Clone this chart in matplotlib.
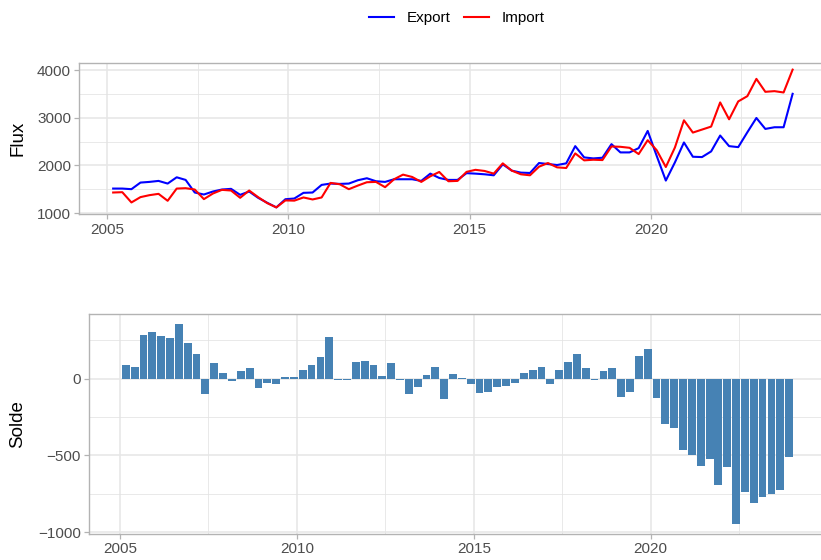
import numpy as np
import pandas as pd
import matplotlib
matplotlib.use("Agg")
import matplotlib.pyplot as plt
from matplotlib.lines import Line2D
from matplotlib.ticker import FixedLocator

plt.rcParams['font.family'] = ['Liberation Sans', 'DejaVu Sans']

# Quarterly series, March 2005 to December 2023
dates = pd.date_range('2005-03-01', periods=76, freq='QS-MAR')

export = [1514, 1514, 1501, 1640, 1654, 1675, 1619, 1751, 1696, 1431,
          1389, 1452, 1494, 1508, 1382, 1452, 1320, 1215, 1118, 1290,
          1305, 1424, 1431, 1591, 1619, 1612, 1619, 1689, 1731, 1668,
          1654, 1710, 1710, 1710, 1675, 1828, 1737, 1696, 1696, 1838,
          1828, 1814, 1793, 2023, 1891, 1849, 1842, 2051, 2030, 2009,
          2044, 2406, 2169, 2148, 2162, 2448, 2274, 2274, 2364, 2726,
          2200, 1682, 2065, 2483, 2183, 2176, 2295, 2629, 2406, 2385,
          2698, 2998, 2768, 2803, 2803, 3506]

imports = [1431, 1438, 1222, 1334, 1375, 1403, 1257, 1514, 1522, 1494,
           1292, 1410, 1487, 1473, 1320, 1473, 1334, 1208, 1118, 1265,
           1260, 1327, 1285, 1327, 1633, 1605, 1501, 1577, 1647, 1654,
           1543, 1710, 1807, 1758, 1654, 1772, 1863, 1668, 1675, 1865,
           1908, 1884, 1828, 2044, 1891, 1814, 1793, 1974, 2051, 1960,
           1946, 2253, 2107, 2120, 2113, 2399, 2392, 2371, 2239, 2531,
           2320, 1967, 2378, 2949, 2691, 2754, 2817, 3325, 2970, 3346,
           3457, 3820, 3548, 3562, 3534, 4014]

solde = [85, 78, 283, 302, 276, 263, 353, 232, 161, -100,
         98, 34, -17, 47, 66, -62, -30, -36, 8, 8,
         53, 91, 142, 270, -11, -11, 110, 117, 91, 15,
         104, -11, -100, -55, 21, 78, -132, 27, 2, -36,
         -94, -87, -55, -49, -30, 34, 53, 78, -36, 53,
         110, 161, 66, -11, 47, 66, -119, -87, 149, 193,
         -126, -298, -323, -464, -496, -566, -521, -693, -572, -946,
         -738, -808, -770, -749, -723, -508]

year_ticks = [2005, 2010, 2015, 2020]
year_minor = [2007.5, 2012.5, 2017.5, 2022.5]

# dates as decimal years
days_in_year = np.where(dates.is_leap_year, 366, 365)
t = dates.year + (dates.dayofyear - 1) / days_in_year
bar_w = 81 / 365.25

W, H = 821, 560
fig = plt.figure(figsize=(W / 100, H / 100), dpi=100)

tick_col = '#4D4D4D'
border_col = '#B3B3B3'


def style(ax, yticks, yminor):
    ax.xaxis.set_major_locator(FixedLocator(year_ticks))
    ax.xaxis.set_minor_locator(FixedLocator(year_minor))
    ax.yaxis.set_major_locator(FixedLocator(yticks))
    ax.yaxis.set_minor_locator(FixedLocator(yminor))
    ax.grid(which='major', color='#E6E6E6', linewidth=1.1)
    ax.grid(which='minor', color='#E3E3E3', linewidth=0.55)
    ax.set_axisbelow(True)
    for s in ax.spines.values():
        s.set_color(border_col)
        s.set_linewidth(1.0)
    ax.tick_params(which='major', length=3.5, width=0.9, color=border_col,
                   labelcolor=tick_col, labelsize=11, pad=2.5)
    ax.tick_params(which='minor', length=0)


# top panel: flows
ax1 = fig.add_axes([79.3 / W, 1 - 214.3 / H, (826.5 - 79.3) / W, (214.3 - 62.7) / H])
ax1.plot(t, export, color='#0000FF', linewidth=1.5)
ax1.plot(t, imports, color='#FF0000', linewidth=1.5)
ax1.set_xlim(2004.227, 2024.85)
ax1.set_ylim(973, 4160)
style(ax1, [1000, 2000, 3000, 4000], [1500, 2500, 3500])
ax1.set_ylabel('Flux', fontsize=13.5)

# bottom panel: balance
ax2 = fig.add_axes([89 / W, 1 - 534 / H, (826.5 - 89) / W, (534 - 314.3) / H])
ax2.bar(t, solde, width=bar_w, color='#4682B4')
ax2.set_xlim(2004.124, 2024.97)
ax2.set_ylim(-1011, 418)
style(ax2, [-1000, -500, 0], [-750, -250, 250])
ax2.set_ylabel('Solde', fontsize=13.5)

for ax in (ax1, ax2):
    ax.set_xticklabels([str(y) for y in year_ticks])

handles = [Line2D([], [], color='#0000FF', linewidth=1.5),
           Line2D([], [], color='#FF0000', linewidth=1.5)]
fig.legend(handles, ['Export', 'Import'], loc='center', ncol=2,
           bbox_to_anchor=(457 / W, 1 - 18 / H), frameon=False,
           fontsize=11, handlelength=1.6, handletextpad=0.85,
           columnspacing=0.9)

# y-axis titles share the same left column
label_x = 26.5
ax1.yaxis.set_label_coords((label_x - 79.3) / (826.5 - 79.3), 0.5)
ax2.yaxis.set_label_coords((label_x - 89) / (826.5 - 89), 0.5)

fig.savefig('out.png', dpi=100)
